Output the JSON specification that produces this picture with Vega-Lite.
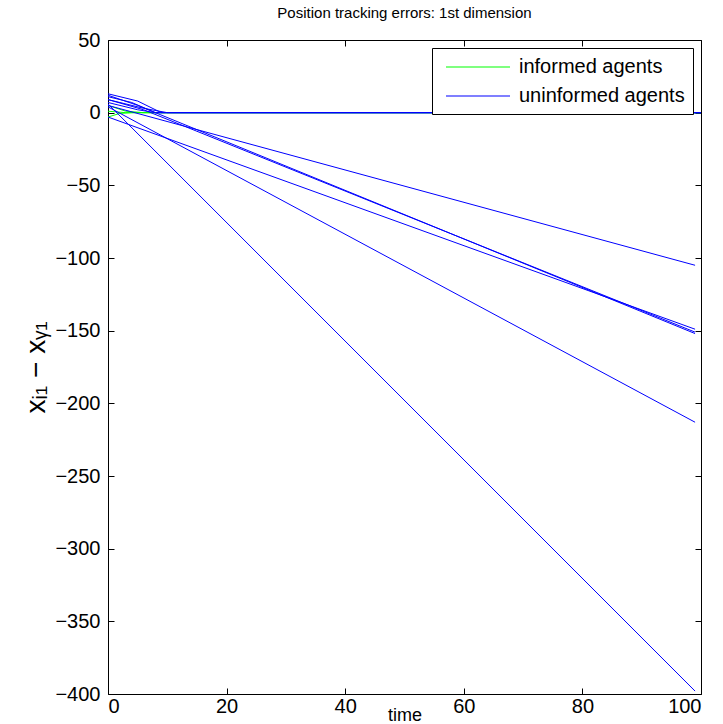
{
  "$schema": "https://vega.github.io/schema/vega-lite/v6.json",
  "width": 593,
  "height": 654,
  "autosize": {"type": "none"},
  "padding": {"left": 108, "top": 40, "right": 22, "bottom": 30},
  "background": "white",
  "config": {
    "font": "Liberation Sans",
    "view": {"stroke": "black", "strokeWidth": 1},
    "axis": {"grid": false, "domain": false, "tickColor": "black", "labelColor": "black", "titleColor": "black", "labelFont": "Liberation Sans", "titleFont": "Liberation Sans", "labelFontSize": 20, "titleFontSize": 19, "titleFontWeight": "normal", "tickSize": -6, "labelPadding": 8}
  },
  "title": {"text": "Position tracking errors: 1st dimension", "fontSize": 15, "fontWeight": "normal", "font": "Liberation Sans", "color": "black", "offset": 9, "anchor": "middle"},
  "data": {"values": [
    {"id": "g1", "group": "informed agents", "t": 0, "v": 5},
    {"id": "g1", "group": "informed agents", "t": 3, "v": 1},
    {"id": "g1", "group": "informed agents", "t": 6, "v": 0},
    {"id": "g1", "group": "informed agents", "t": 100, "v": 0},
    {"id": "g2", "group": "informed agents", "t": 0, "v": -3},
    {"id": "g2", "group": "informed agents", "t": 2, "v": -0.5},
    {"id": "g2", "group": "informed agents", "t": 4, "v": 0},
    {"id": "g2", "group": "informed agents", "t": 100, "v": 0},
    {"id": "g3", "group": "informed agents", "t": 0, "v": 1},
    {"id": "g3", "group": "informed agents", "t": 3, "v": 0},
    {"id": "g3", "group": "informed agents", "t": 100, "v": 0},
    {"id": "u1", "group": "uninformed agents", "t": 0, "v": 6},
    {"id": "u1", "group": "uninformed agents", "t": 99, "v": -398},
    {"id": "u2", "group": "uninformed agents", "t": 0, "v": 4},
    {"id": "u2", "group": "uninformed agents", "t": 99, "v": -213},
    {"id": "u3", "group": "uninformed agents", "t": 0, "v": -3},
    {"id": "u3", "group": "uninformed agents", "t": 99, "v": -149},
    {"id": "u4", "group": "uninformed agents", "t": 0, "v": 12},
    {"id": "u4", "group": "uninformed agents", "t": 5, "v": 5},
    {"id": "u4", "group": "uninformed agents", "t": 99, "v": -152},
    {"id": "u5", "group": "uninformed agents", "t": 0, "v": 9},
    {"id": "u5", "group": "uninformed agents", "t": 6, "v": 2},
    {"id": "u5", "group": "uninformed agents", "t": 99, "v": -151},
    {"id": "u6", "group": "uninformed agents", "t": 0, "v": 5},
    {"id": "u6", "group": "uninformed agents", "t": 99, "v": -105},
    {"id": "u7", "group": "uninformed agents", "t": 0, "v": 13},
    {"id": "u7", "group": "uninformed agents", "t": 5, "v": 8},
    {"id": "u7", "group": "uninformed agents", "t": 9, "v": 0},
    {"id": "u7", "group": "uninformed agents", "t": 100, "v": 0},
    {"id": "u8", "group": "uninformed agents", "t": 0, "v": 11},
    {"id": "u8", "group": "uninformed agents", "t": 4, "v": 7},
    {"id": "u8", "group": "uninformed agents", "t": 8, "v": 0},
    {"id": "u8", "group": "uninformed agents", "t": 100, "v": 0},
    {"id": "u9", "group": "uninformed agents", "t": 0, "v": 9},
    {"id": "u9", "group": "uninformed agents", "t": 6, "v": 3},
    {"id": "u9", "group": "uninformed agents", "t": 10, "v": 0},
    {"id": "u9", "group": "uninformed agents", "t": 100, "v": 0},
    {"id": "u10", "group": "uninformed agents", "t": 0, "v": 7},
    {"id": "u10", "group": "uninformed agents", "t": 5, "v": 2},
    {"id": "u10", "group": "uninformed agents", "t": 8, "v": 0},
    {"id": "u10", "group": "uninformed agents", "t": 100, "v": 0}
  ]},
  "layer": [
    {
      "mark": {"type": "line", "strokeWidth": 1, "clip": true},
      "encoding": {
        "x": {"field": "t", "type": "quantitative", "scale": {"domain": [0, 100], "nice": false, "zero": false}, "axis": {"values": [0, 20, 40, 60, 80, 100], "title": "time", "titleFontSize": 18, "labelPadding": 8, "titlePadding": -10}},
        "y": {"field": "v", "type": "quantitative", "scale": {"domain": [-400, 50], "nice": false, "zero": false}, "axis": {"values": [-400, -350, -300, -250, -200, -150, -100, -50, 0, 50], "title": "xᵢ₁ − xᵧ₁", "titleFontSize": 28, "titlePadding": 4, "labelPadding": 14, "labelExpr": "replace(datum.label, '-', '−')"}},
        "color": {"field": "group", "type": "nominal", "scale": {"domain": ["informed agents", "uninformed agents"], "range": ["#00ff00", "#0000ff"]},
          "legend": {"title": null, "orient": "top-right", "offset": 8, "symbolType": "M-3.2,0H3.2", "symbolSize": 400, "symbolStrokeWidth": 1.2, "symbolOffset": 27, "labelFontSize": 20, "labelLimit": 400, "labelFont": "Liberation Sans", "labelColor": "black", "strokeColor": "black", "fillColor": "white", "padding": 8, "rowPadding": 8, "labelOffset": 30}},
        "detail": {"field": "id"},
        "order": {"field": "t", "type": "quantitative"}
      }
    },
    {
      "mark": {"type": "line", "strokeWidth": 0, "opacity": 0},
      "encoding": {
        "x": {"field": "t", "type": "quantitative", "scale": {"domain": [0, 100], "nice": false, "zero": false}, "axis": {"orient": "top", "values": [0, 20, 40, 60, 80, 100], "labels": false, "labelPadding": 0, "title": null}},
        "y": {"field": "v", "type": "quantitative", "scale": {"domain": [-400, 50], "nice": false, "zero": false}, "axis": {"orient": "right", "values": [-400, -350, -300, -250, -200, -150, -100, -50, 0, 50], "labels": false, "title": null}},
        "detail": {"field": "id"}
      }
    }
  ],
  "resolve": {"axis": {"x": "independent", "y": "independent"}}
}
